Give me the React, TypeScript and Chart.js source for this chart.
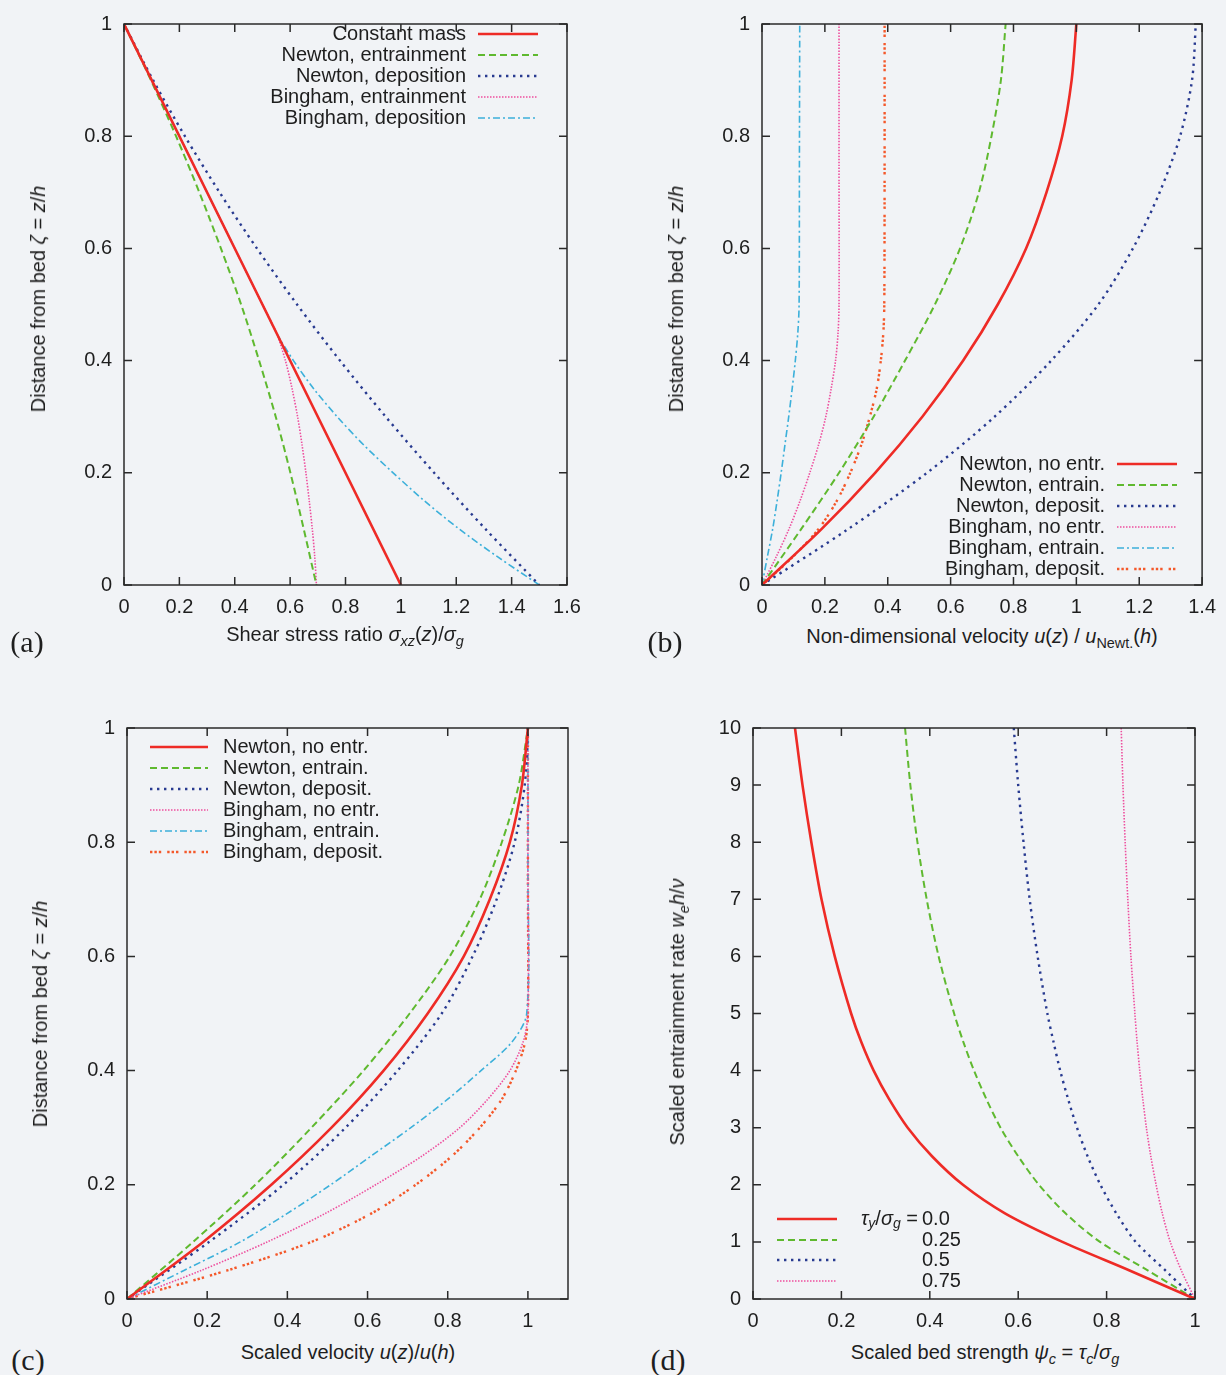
import React, { useEffect, useRef } from "react";
import { Chart, registerables } from "chart.js";
Chart.register(...registerables);

// ---------------- DATA ----------------
// Panel (a): shear stress ratio vs distance from bed
const aConstZeta = [1, 0];
const aConstX = [0, 1];
const aNewtZeta = [1, 0.9, 0.8, 0.7, 0.6, 0.5, 0.4, 0.3, 0.2, 0.1, 0];
const aNewtEntX = [0, 0.097, 0.188, 0.272, 0.35, 0.423, 0.488, 0.548, 0.601, 0.649, 0.695];
const aNewtDepX = [0, 0.105, 0.22, 0.345, 0.48, 0.625, 0.78, 0.945, 1.12, 1.305, 1.5];
const aBingZeta = [1, 0.8, 0.6, 0.5, 0.45, 0.4, 0.35, 0.3, 0.25, 0.2, 0.15, 0.1, 0.05, 0];
const aBingEntX = [0, 0.2, 0.4, 0.5, 0.55, 0.583, 0.607, 0.627, 0.643, 0.657, 0.669, 0.68, 0.689, 0.695];
const aBingDepX = [0, 0.2, 0.4, 0.5, 0.55, 0.612, 0.685, 0.77, 0.865, 0.972, 1.085, 1.21, 1.35, 1.5];

// Panel (b): non-dimensional velocity vs distance from bed
const bNewtZeta = [0, 0.1, 0.2, 0.3, 0.4, 0.5, 0.6, 0.7, 0.8, 0.9, 1];
const bNewtNoX = [0, 0.19, 0.36, 0.51, 0.64, 0.75, 0.84, 0.905, 0.955, 0.985, 1.0];
const bNewtEntX = [0, 0.125, 0.245, 0.355, 0.455, 0.55, 0.63, 0.69, 0.73, 0.76, 0.775];
const bNewtDepX = [0, 0.275, 0.525, 0.74, 0.92, 1.07, 1.18, 1.265, 1.33, 1.368, 1.38];
const bBingZeta = [0, 0.05, 0.1, 0.15, 0.2, 0.25, 0.3, 0.35, 0.4, 0.45, 0.5, 0.75, 1];
const bBingNoX = [0, 0.045, 0.086, 0.121, 0.152, 0.18, 0.203, 0.22, 0.234, 0.242, 0.245, 0.245, 0.245];
const bBingEntX = [0, 0.017, 0.034, 0.048, 0.061, 0.073, 0.085, 0.096, 0.106, 0.114, 0.118, 0.119, 0.12];
const bBingDepX = [0, 0.098, 0.18, 0.238, 0.281, 0.316, 0.343, 0.365, 0.378, 0.386, 0.389, 0.39, 0.39];

// Panel (c): scaled velocity vs distance from bed
const cNewtZeta = [0, 0.1, 0.2, 0.3, 0.4, 0.5, 0.6, 0.7, 0.8, 0.9, 1];
const cNewtNoX = [0, 0.19, 0.36, 0.51, 0.64, 0.75, 0.84, 0.905, 0.955, 0.985, 1.0];
const cNewtEntX = [0, 0.165, 0.32, 0.46, 0.59, 0.705, 0.805, 0.88, 0.935, 0.977, 1.0];
const cNewtDepX = [0, 0.205, 0.39, 0.545, 0.675, 0.785, 0.862, 0.922, 0.967, 0.992, 1.0];
const cBingZeta = [0, 0.05, 0.1, 0.15, 0.2, 0.25, 0.3, 0.35, 0.4, 0.45, 0.5, 0.75, 1];
const cBingNoX = [0, 0.185, 0.35, 0.495, 0.62, 0.735, 0.83, 0.9, 0.955, 0.988, 1, 1, 1];
const cBingEntX = [0, 0.142, 0.283, 0.4, 0.508, 0.608, 0.708, 0.8, 0.883, 0.96, 0.997, 1, 1];
const cBingDepX = [0, 0.25, 0.46, 0.61, 0.72, 0.81, 0.88, 0.935, 0.97, 0.993, 1, 1, 1];

// Panel (d): scaled entrainment rate vs scaled bed strength
const dRate = [10, 9, 8, 7, 6, 5, 4.5, 4, 3.5, 3, 2.5, 2, 1.5, 1, 0.5, 0];
const dTau000X = [0.095, 0.112, 0.132, 0.155, 0.185, 0.222, 0.245, 0.273, 0.308, 0.35, 0.405, 0.475, 0.57, 0.7, 0.852, 1];
const dTau025X = [0.344, 0.356, 0.372, 0.393, 0.42, 0.455, 0.476, 0.5, 0.528, 0.56, 0.6, 0.647, 0.707, 0.785, 0.893, 1];
const dTau050X = [0.59, 0.6, 0.612, 0.626, 0.644, 0.666, 0.68, 0.695, 0.713, 0.733, 0.757, 0.786, 0.822, 0.866, 0.933, 1];
const dTau075X = [0.833, 0.837, 0.842, 0.848, 0.855, 0.864, 0.869, 0.875, 0.882, 0.89, 0.9, 0.912, 0.926, 0.944, 0.969, 1];

// Labels
const aLabels = ["Constant mass", "Newton, entrainment", "Newton, deposition", "Bingham, entrainment", "Bingham, deposition"];
const bcLabels = ["Newton, no entr.", "Newton, entrain.", "Newton, deposit.", "Bingham, no entr.", "Bingham, entrain.", "Bingham, deposit."];
const dLabels = ["0.0", "0.25", "0.5", "0.75"];

// ---------------- STYLE ----------------
const FONT = '"Liberation Sans", Arial, Helvetica, sans-serif';
const INK = "#1e1e1e";
const BG = "#f1f3f6";
const FS = 20;

const ST: Record<string, any> = {
  red: { borderColor: "#ee2b26", borderWidth: 2.6, borderDash: [] },
  green: { borderColor: "#5fb92f", borderWidth: 2, borderDash: [7, 4] },
  blue: { borderColor: "#283a90", borderWidth: 2.4, borderDash: [2.4, 4.6] },
  pink: { borderColor: "#ee4f9e", borderWidth: 1.6, borderDash: [1.5, 1.5] },
  cyan: { borderColor: "#3cb0da", borderWidth: 1.6, borderDash: [7, 3, 2, 3] },
  orange: { borderColor: "#f4582a", borderWidth: 2.4, borderDash: [2.4, 2, 2.4, 2, 2.4, 6] },
};

function series(xs: number[], ys: number[], st: any) {
  return {
    data: xs.map((x, i) => ({ x, y: ys[i] })),
    showLine: true,
    pointRadius: 0,
    fill: false,
    tension: 0.3,
    borderCapStyle: "butt",
    ...st,
  };
}

type Part = { t: string; i?: boolean; sub?: boolean };

function drawRich(ctx: CanvasRenderingContext2D, parts: Part[], x: number, y: number, align: "left" | "right") {
  const fontFor = (p: Part) => `${p.i ? "italic " : ""}${p.sub ? Math.round(FS * 0.72) : FS}px ${FONT}`;
  let total = 0;
  for (const p of parts) {
    ctx.font = fontFor(p);
    total += ctx.measureText(p.t).width;
  }
  let cx = align === "right" ? x - total : x;
  ctx.textAlign = "left";
  for (const p of parts) {
    ctx.font = fontFor(p);
    ctx.fillText(p.t, cx, p.sub ? y + FS * 0.28 : y);
    cx += ctx.measureText(p.t).width;
  }
}

type LegendCfg = {
  textSide: "left" | "right";
  textX: number;
  lineX1: number;
  lineX2: number;
  rows: number[];
  labels: string[];
  prefix?: { parts: Part[]; right: number };
};

type PanelCfg = {
  left: number;
  top: number;
  w: number;
  h: number;
  area: { left: number; right: number; top: number; bottom: number };
  x: [number, number, number];
  y: [number, number, number];
  datasets: any[];
  legend: LegendCfg;
};

const fmt = (v: any) => String(+Number(v).toFixed(2));

function Panel({ cfg }: { cfg: PanelCfg }) {
  const ref = useRef<HTMLCanvasElement>(null);
  useEffect(() => {
    const a = cfg.area;
    const TL = 8;
    const plugin = {
      id: "gpFrame",
      afterDatasetsDraw(chart: any) {
        const { ctx, chartArea: ca, scales } = chart;
        ctx.save();
        ctx.strokeStyle = "#2a2a2a";
        ctx.lineWidth = 1.5;
        ctx.setLineDash([]);
        ctx.beginPath();
        for (const t of scales.x.ticks) {
          const px = scales.x.getPixelForValue(t.value);
          ctx.moveTo(px, ca.bottom);
          ctx.lineTo(px, ca.bottom - TL);
          ctx.moveTo(px, ca.top);
          ctx.lineTo(px, ca.top + TL);
        }
        for (const t of scales.y.ticks) {
          const py = scales.y.getPixelForValue(t.value);
          ctx.moveTo(ca.left, py);
          ctx.lineTo(ca.left + TL, py);
          ctx.moveTo(ca.right, py);
          ctx.lineTo(ca.right - TL, py);
        }
        ctx.stroke();
        ctx.strokeRect(ca.left, ca.top, ca.right - ca.left, ca.bottom - ca.top);
        ctx.restore();
      },
      afterDraw(chart: any) {
        const { ctx } = chart;
        const L = cfg.legend;
        ctx.save();
        ctx.fillStyle = INK;
        ctx.textBaseline = "middle";
        L.labels.forEach((lab, i) => {
          const ds = chart.data.datasets[i];
          const y = L.rows[i];
          ctx.font = `${FS}px ${FONT}`;
          ctx.textAlign = L.textSide === "left" ? "right" : "left";
          ctx.fillText(lab, L.textX, y);
          ctx.strokeStyle = ds.borderColor;
          ctx.lineWidth = ds.borderWidth;
          ctx.setLineDash(ds.borderDash || []);
          ctx.lineCap = "butt";
          ctx.beginPath();
          ctx.moveTo(L.lineX1, y);
          ctx.lineTo(L.lineX2, y);
          ctx.stroke();
          ctx.setLineDash([]);
        });
        if (L.prefix) drawRich(ctx, L.prefix.parts, L.prefix.right, L.rows[0], "right");
        ctx.restore();
      },
    };
    const tickFont = { family: FONT, size: FS };
    const chart = new Chart(ref.current as HTMLCanvasElement, {
      type: "scatter",
      data: { datasets: cfg.datasets },
      options: {
        responsive: false,
        animation: false,
        devicePixelRatio: 1,
        events: [],
        layout: { padding: { left: 0, top: a.top, right: cfg.w - a.right, bottom: 0 } },
        plugins: { legend: { display: false }, tooltip: { enabled: false }, title: { display: false } },
        elements: { point: { radius: 0 } },
        scales: {
          x: {
            type: "linear",
            min: cfg.x[0],
            max: cfg.x[1],
            afterFit: (s: any) => {
              s.height = cfg.h - a.bottom;
            },
            grid: { display: false, drawTicks: false },
            border: { display: false },
            ticks: {
              stepSize: cfg.x[2],
              includeBounds: false,
              autoSkip: false,
              maxRotation: 0,
              padding: 10,
              font: tickFont,
              color: INK,
              callback: fmt,
            },
          },
          y: {
            type: "linear",
            min: cfg.y[0],
            max: cfg.y[1],
            afterFit: (s: any) => {
              s.width = a.left;
            },
            grid: { display: false, drawTicks: false },
            border: { display: false },
            ticks: {
              stepSize: cfg.y[2],
              includeBounds: false,
              autoSkip: false,
              padding: 12,
              font: tickFont,
              color: INK,
              callback: fmt,
            },
          },
        },
      } as any,
      plugins: [plugin as any],
    });
    return () => chart.destroy();
  }, []);
  return (
    <canvas
      ref={ref}
      width={cfg.w}
      height={cfg.h}
      style={{ position: "absolute", left: cfg.left, top: cfg.top, width: cfg.w, height: cfg.h }}
    />
  );
}

const PANELS: PanelCfg[] = [
  {
    left: 0,
    top: 0,
    w: 613,
    h: 625,
    area: { left: 124, right: 567, top: 14, bottom: 585 },
    x: [0, 1.6, 0.2],
    y: [0, 1, 0.2],
    datasets: [
      series(aConstX, aConstZeta, ST.red),
      series(aNewtEntX, aNewtZeta, ST.green),
      series(aNewtDepX, aNewtZeta, ST.blue),
      series(aBingEntX, aBingZeta, ST.pink),
      series(aBingDepX, aBingZeta, ST.cyan),
    ],
    legend: { textSide: "left", textX: 466, lineX1: 478, lineX2: 538, rows: [34, 55, 76, 97, 118], labels: aLabels },
  },
  {
    left: 613,
    top: 0,
    w: 613,
    h: 625,
    area: { left: 149, right: 590, top: 14, bottom: 585 },
    x: [0, 1.4, 0.2],
    y: [0, 1, 0.2],
    datasets: [
      series(bNewtNoX, bNewtZeta, ST.red),
      series(bNewtEntX, bNewtZeta, ST.green),
      series(bNewtDepX, bNewtZeta, ST.blue),
      series(bBingNoX, bBingZeta, ST.pink),
      series(bBingEntX, bBingZeta, ST.cyan),
      series(bBingDepX, bBingZeta, ST.orange),
    ],
    legend: { textSide: "left", textX: 492, lineX1: 504, lineX2: 564, rows: [464, 485, 506, 527, 548, 569], labels: bcLabels },
  },
  {
    left: 0,
    top: 700,
    w: 613,
    h: 640,
    area: { left: 127, right: 568, top: 28, bottom: 599 },
    x: [0, 1.1, 0.2],
    y: [0, 1, 0.2],
    datasets: [
      series(cNewtNoX, cNewtZeta, ST.red),
      series(cNewtEntX, cNewtZeta, ST.green),
      series(cNewtDepX, cNewtZeta, ST.blue),
      series(cBingNoX, cBingZeta, ST.pink),
      series(cBingEntX, cBingZeta, ST.cyan),
      series(cBingDepX, cBingZeta, ST.orange),
    ],
    legend: { textSide: "right", textX: 223, lineX1: 150, lineX2: 208, rows: [47, 68, 89, 110, 131, 152], labels: bcLabels },
  },
  {
    left: 613,
    top: 700,
    w: 613,
    h: 640,
    area: { left: 140, right: 582, top: 28, bottom: 599 },
    x: [0, 1, 0.2],
    y: [0, 10, 1],
    datasets: [
      series(dTau000X, dRate, ST.red),
      series(dTau025X, dRate, ST.green),
      series(dTau050X, dRate, ST.blue),
      series(dTau075X, dRate, ST.pink),
    ],
    legend: {
      textSide: "right",
      textX: 309,
      lineX1: 164,
      lineX2: 224,
      rows: [519, 540, 560, 581],
      labels: dLabels,
      prefix: {
        right: 305,
        parts: [
          { t: "τ", i: true },
          { t: "y", i: true, sub: true },
          { t: "/" },
          { t: "σ", i: true },
          { t: "g", i: true, sub: true },
          { t: " =" },
        ],
      },
    },
  },
];

const I = ({ children }: any) => <i>{children}</i>;
const Sub = ({ children }: any) => (
  <sub style={{ fontSize: "0.72em", verticalAlign: "-0.32em", lineHeight: 0 }}>{children}</sub>
);

function Txt({ x, y, rot, size, serif, children }: any) {
  return (
    <div
      style={{
        position: "absolute",
        left: x,
        top: y,
        transform: `translate(-50%, -50%)${rot ? " rotate(-90deg)" : ""}`,
        whiteSpace: "nowrap",
        lineHeight: 1,
        fontSize: size || FS,
        fontFamily: serif ? '"Liberation Serif", "Times New Roman", serif' : FONT,
        color: INK,
      }}
    >
      {children}
    </div>
  );
}

export default function App() {
  return (
    <div
      style={{
        position: "absolute",
        left: 0,
        top: 0,
        width: 1226,
        height: 1375,
        background: BG,
        overflow: "hidden",
      }}
    >
      {PANELS.map((p, i) => (
        <Panel key={i} cfg={p} />
      ))}

      <Txt x={345} y={634}>
        Shear stress ratio <I>σ</I>
        <Sub>
          <I>xz</I>
        </Sub>
        (<I>z</I>)/<I>σ</I>
        <Sub>
          <I>g</I>
        </Sub>
      </Txt>
      <Txt x={982} y={636}>
        Non-dimensional velocity <I>u</I>(<I>z</I>) / <I>u</I>
        <Sub>Newt.</Sub>(<I>h</I>)
      </Txt>
      <Txt x={348} y={1352}>
        Scaled velocity <I>u</I>(<I>z</I>)/<I>u</I>(<I>h</I>)
      </Txt>
      <Txt x={985} y={1352}>
        Scaled bed strength <I>ψ</I>
        <Sub>
          <I>c</I>
        </Sub>{" "}
        = <I>τ</I>
        <Sub>
          <I>c</I>
        </Sub>
        /<I>σ</I>
        <Sub>
          <I>g</I>
        </Sub>
      </Txt>

      <Txt x={38} y={299} rot>
        Distance from bed <I>ζ</I> = <I>z</I>/<I>h</I>
      </Txt>
      <Txt x={676} y={299} rot>
        Distance from bed <I>ζ</I> = <I>z</I>/<I>h</I>
      </Txt>
      <Txt x={40} y={1014} rot>
        Distance from bed <I>ζ</I> = <I>z</I>/<I>h</I>
      </Txt>
      <Txt x={677} y={1012} rot>
        Scaled entrainment rate <I>w</I>
        <Sub>
          <I>e</I>
        </Sub>
        <I>h</I>/<I>ν</I>
      </Txt>

      <Txt x={27} y={642} size={30} serif>
        (a)
      </Txt>
      <Txt x={665} y={642} size={30} serif>
        (b)
      </Txt>
      <Txt x={28} y={1360} size={30} serif>
        (c)
      </Txt>
      <Txt x={668} y={1360} size={30} serif>
        (d)
      </Txt>
    </div>
  );
}
